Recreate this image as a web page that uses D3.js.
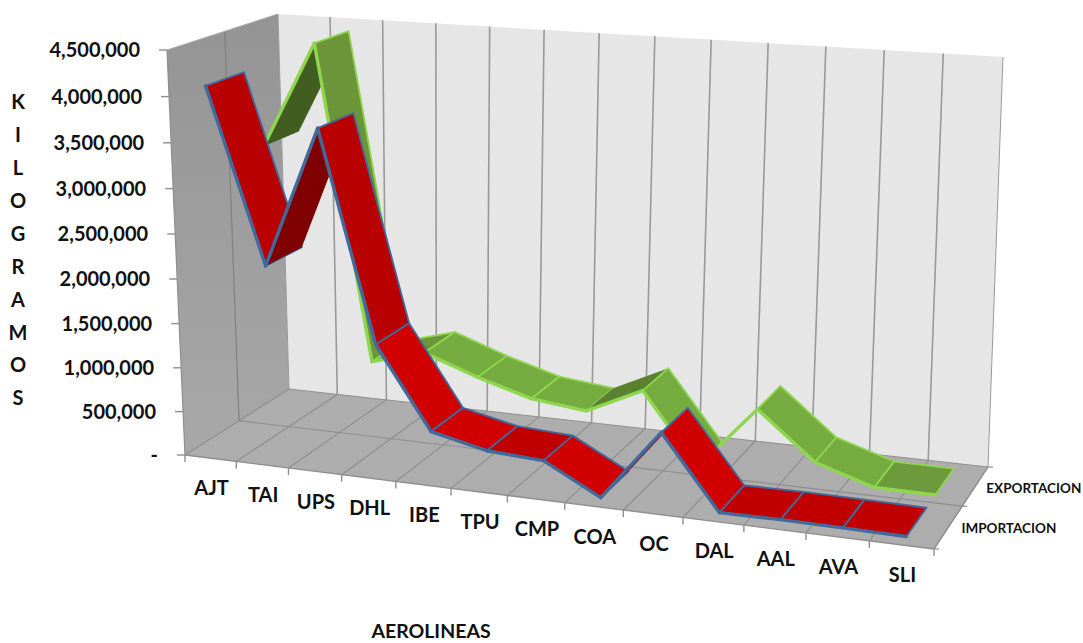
<!DOCTYPE html>
<html><head><meta charset="utf-8">
<script src="https://cdn.jsdelivr.net/npm/d3@7/dist/d3.min.js"></script>
<style>html,body{margin:0;background:#fff}svg{display:block}text{font-family:Lato,"Open Sans",sans-serif;font-weight:700;fill:#111}</style>
</head><body><svg id="c" width="1083" height="643"></svg>
<script>
const categories = ["AJT","TAI","UPS","DHL","IBE","TPU","CMP","COA","OC","DAL","AAL","AVA","SLI"];
const seriesNames = ["IMPORTACION","EXPORTACION"];
const importacion = [4100000,2180000,3730000,1430000,530000,390000,355000,25000,810000,22000,28000,22000,14000];
const exportacion = [3190000,4390000,810000,980000,760000,580000,510000,810000,16000,740000,220000,16000,12000];
const valueTicks = [0,500000,1000000,1500000,2000000,2500000,3000000,3500000,4000000,4500000];
const axisLetters = ["K","I","L","O","G","R","A","M","O","S"];

const floorCorners = [[185,455],[934,549],[988,467],[289,389]];
const topCorners = [[167,50],[949,100],[1003,57],[278,14]];

function homography([p00,p10,p11,p01]){
  const d1=[p10[0]-p11[0],p10[1]-p11[1]], d2=[p01[0]-p11[0],p01[1]-p11[1]];
  const s=[p00[0]-p10[0]+p11[0]-p01[0],p00[1]-p10[1]+p11[1]-p01[1]];
  const det=d1[0]*d2[1]-d2[0]*d1[1];
  const g=(s[0]*d2[1]-d2[0]*s[1])/det, h=(d1[0]*s[1]-s[0]*d1[1])/det;
  return (u,w)=>{
    const den=1+g*u+h*w;
    return [0,1].map(k=>(p00[k]+u*(p10[k]*(1+g)-p00[k])+w*(p01[k]*(1+h)-p00[k]))/den);
  };
}
const floorH=homography(floorCorners), topH=homography(topCorners);
function project(u,v,w){
  const b=floorH(u,w), t=topH(u,w), f=v*(1+0.04*(v-1));
  return [b[0]+(t[0]-b[0])*f, b[1]+(t[1]-b[1])*f];
}
const x=d3.scaleBand(categories,[0,1]);
const y=d3.scaleLinear([0,4500000],[0,1]);
const z=d3.scaleBand(seriesNames,[0,1]).paddingInner(0.32).paddingOuter(0.16);
const cx=c=>x(c)+x.bandwidth()/2;
const fmt=d=>d===0?"-":d3.format(",")(d);
const path=d3.line();

const svg=d3.select("#c");
const defs=svg.append("defs");
const lg=defs.append("linearGradient").attr("id","wall").attr("x1",0).attr("x2",0).attr("y1",0).attr("y2",1);
lg.append("stop").attr("offset",0).attr("stop-color","#949494");
lg.append("stop").attr("offset",1).attr("stop-color","#a8a8a8");

const poly=(pts,fill,stroke,sw)=>svg.append("path").attr("d",path(pts)+"Z").attr("fill",fill).attr("stroke",stroke||"none").attr("stroke-width",sw||0).attr("stroke-linejoin","round");
const line=(a,b,stroke,sw)=>svg.append("line").attr("x1",a[0]).attr("y1",a[1]).attr("x2",b[0]).attr("y2",b[1]).attr("stroke",stroke).attr("stroke-width",sw);

// walls & floor
poly([project(0,0,0),project(0,1,0),project(0,1,1),project(0,0,1)],"url(#wall)");
poly([project(0,0,1),project(0,1,1),project(1,1,1),project(1,0,1)],"#e6e6e6");
poly([project(0,0,0),project(1,0,0),project(1,0,1),project(0,0,1)],"#adadad");
const gridCol="#8e8e8e";
const uTicks=d3.range(categories.length+1).map(i=>i/categories.length);
uTicks.forEach(u=>{
  line(project(u,0,1),project(u,1,1),"#999",u===1||u===0?1:1.6);
  line(project(u,0,0),project(u,0,1),gridCol,1.2);
  const p=project(u,0,0);
  line(p,[p[0],p[1]+7],gridCol,1.4);
});
line(project(0,0,0.5),project(1,0,0.5),gridCol,1.2);
line(project(0,0,1),project(1,0,1),gridCol,1);
line(project(0,0,0),project(1,0,0),gridCol,1.4);
line(project(0,0,0.5),project(0,1,0.5),"#808080",1.2);
line(project(0,1,0),project(0,1,1),"#aaa",1);
line(project(0,0,0),project(0,1,0),"#8e8e8e",1.2);
line(project(1,0,0),project(1,0,1),gridCol,1.2);
[0,.5,1].forEach(w=>{const p=project(1,0,w);line(p,[p[0]+5,p[1]],gridCol,1.2);});

// ribbons
const styles={
  IMPORTACION:{edge:"#41699c",under:"#7f0000",underMid:"#7f0000",steep:"#b80000",medium:"#d00000",flat:"#c00000"},
  EXPORTACION:{edge:"#8ed64f",under:"#415e20",underMid:"#5a8030",steep:"#6b9538",medium:"#76ab3f",flat:"#6c9a3b"}
};
function shade(st,a,b){
  const rise=b-a;
  if(rise>=1000000) return [st.under,true];
  if(rise>=250000) return [st.underMid,true];
  if(rise>0.1e6) return [st.steep,false];
  if(-rise>=1500000) return [st.steep,false];
  if(-rise>=50000) return [st.medium,false];
  return [st.flat,false];
}
function ribbon(name,vals){
  const st=styles[name], w0=z(name), w1=w0+z.bandwidth();
  d3.pairs(vals.map((v,i)=>[categories[i],v])).forEach(([a,b])=>{
    const f0=project(cx(a[0]),y(a[1]),w0), f1=project(cx(b[0]),y(b[1]),w0),
          b0=project(cx(a[0]),y(a[1]),w1), b1=project(cx(b[0]),y(b[1]),w1);
    const [fill,under]=shade(st,a[1],b[1]);
    poly([f0,f1,b1,b0],fill,under?"none":st.edge,under?0:1.8);
    svg.append("path").attr("d",path([f0,f1])).attr("fill","none").attr("stroke",st.edge).attr("stroke-width",3.4).attr("stroke-linecap","round");
  });
}
ribbon("EXPORTACION",exportacion);
ribbon("IMPORTACION",importacion);

// y axis
valueTicks.forEach(t=>{
  const p=project(0,y(t),0);
  line([p[0]-8,p[1]],p,"#8e8e8e",1.4);
  svg.append("text").attr("x",p[0]-27).attr("y",p[1]).attr("dy","0.36em").attr("text-anchor","end").attr("font-size",20).text(fmt(t));
});
// category labels
categories.forEach(c=>{
  const p=project(cx(c),0,0);
  svg.append("text").attr("x",p[0]+1).attr("y",p[1]+30).attr("dy","0.36em").attr("text-anchor","middle").attr("font-size",20).text(c);
});
// series labels
seriesNames.forEach((s,i)=>{
  const p=project(1,0,z(s)+z.bandwidth()/2);
  svg.append("text").attr("x",p[0]+[13,11][i]).attr("y",p[1]+[1,2][i]).attr("dy","0.36em").attr("font-size",13.5).text(s);
});
// titles
svg.append("text").attr("x",431).attr("y",631).attr("dy","0.36em").attr("text-anchor","middle").attr("font-size",19.5).text("AEROLINEAS");
axisLetters.forEach((l,i)=>svg.append("text").attr("x",18).attr("y",102+i*32.9).attr("dy","0.36em").attr("text-anchor","middle").attr("font-size",20).text(l));
</script></body></html>
